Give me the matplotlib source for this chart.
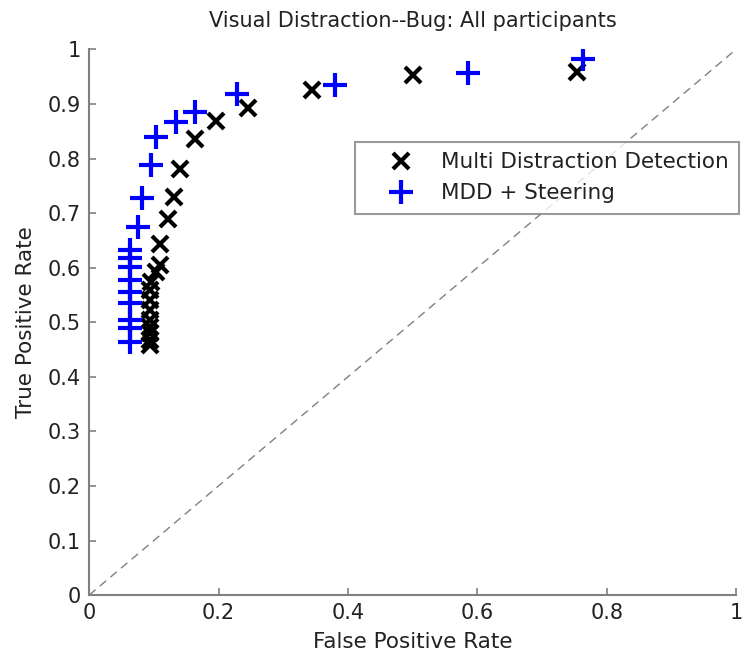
import matplotlib.pyplot as plt

# ROC points (false positive rate, true positive rate)
mdd_fpr = [0.754, 0.501, 0.345, 0.246, 0.196, 0.164, 0.140, 0.131, 0.122, 0.109, 0.109,
           0.104, 0.096, 0.094, 0.094, 0.094, 0.094, 0.094, 0.094, 0.094, 0.094]
mdd_tpr = [0.959, 0.953, 0.925, 0.893, 0.868, 0.835, 0.781, 0.729, 0.690, 0.644, 0.605,
           0.592, 0.574, 0.559, 0.541, 0.522, 0.504, 0.492, 0.480, 0.467, 0.458]

steer_fpr = [0.764, 0.586, 0.380, 0.228, 0.164, 0.134, 0.104, 0.096, 0.081, 0.075,
             0.063, 0.063, 0.063, 0.063, 0.063, 0.063, 0.063, 0.063, 0.063]
steer_tpr = [0.983, 0.956, 0.935, 0.918, 0.885, 0.867, 0.840, 0.788, 0.727, 0.675,
             0.632, 0.617, 0.602, 0.577, 0.556, 0.535, 0.504, 0.489, 0.464]

ticks = [0, 0.2, 0.4, 0.6, 0.8, 1]
yticks = [0, 0.1, 0.2, 0.3, 0.4, 0.5, 0.6, 0.7, 0.8, 0.9, 1]

plt.rcParams['font.family'] = ['DejaVu Sans']

fig = plt.figure(figsize=(7.43, 6.59), dpi=100)
ax = fig.add_axes([0.120, 0.097, 0.8706, 0.828])

ax.plot([0, 1], [0, 1], linestyle=(0, (6, 4)), color='#808080', linewidth=1.0, zorder=1)
ax.plot(mdd_fpr, mdd_tpr, linestyle='none', marker='x', color='black',
        markersize=12, markeredgewidth=3, label='Multi Distraction Detection', zorder=3)
ax.plot(steer_fpr, steer_tpr, linestyle='none', marker='+', color='#0000ff',
        markersize=17, markeredgewidth=3, label='MDD + Steering', zorder=4)

ax.set_xlim(0, 1)
ax.set_ylim(0, 1)
ax.set_xticks(ticks)
ax.set_xticklabels(['0', '0.2', '0.4', '0.6', '0.8', '1'])
ax.set_yticks(yticks)
ax.set_yticklabels(['0', '0.1', '0.2', '0.3', '0.4', '0.5', '0.6', '0.7', '0.8', '0.9', '1'])

for side in ['top', 'right']:
    ax.spines[side].set_visible(False)
for side in ['left', 'bottom']:
    ax.spines[side].set_color('#808080')
    ax.spines[side].set_linewidth(1.5)
ax.tick_params(direction='in', length=5, width=1.2, color='#808080',
               labelsize=15, labelcolor='#222222', pad=6)

ax.set_title('Visual Distraction--Bug: All participants', fontsize=15, color='#222222', pad=16)
ax.set_xlabel('False Positive Rate', fontsize=15.5, color='#222222', labelpad=6)
ax.set_ylabel('True Positive Rate', fontsize=15.5, color='#222222', labelpad=8)

leg = ax.legend(loc='upper right', bbox_to_anchor=(1.005, 0.831), fontsize=15.5,
                frameon=True, fancybox=False, borderpad=0.5, handletextpad=0.2,
                labelspacing=0.5, handlelength=3.3, borderaxespad=0)
leg.get_frame().set_edgecolor('#808080')
leg.get_frame().set_linewidth(1.5)
for t in leg.get_texts():
    t.set_color('#222222')

fig.savefig('out.png', dpi=100)
